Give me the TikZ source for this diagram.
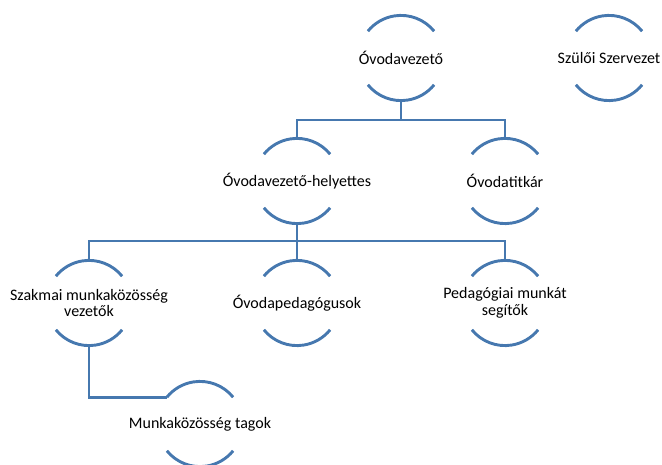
\documentclass[tikz,border=0pt]{standalone}
\usepackage{fontspec}
\setmainfont{Carlito}
\definecolor{lineblue}{RGB}{70,120,175}
\begin{document}
\begin{tikzpicture}[x=1pt,y=1pt,
  circ/.style={circle,draw=none,minimum size=85.2pt,inner sep=0pt,outer sep=0pt},
  lbl/.style={align=center,font=\fontsize{16}{16.5}\selectfont,text=black},
  conn/.style={draw=lineblue,line width=2.9pt},
  arcline/.style={draw=lineblue,line width=2.9pt}]
\useasboundingbox (0,0) rectangle (662,-465);
\def\R{42.6pt}
\node[circ,label={[lbl]center:Óvodavezető}] (v) at (401,-58) {};
\node[circ,label={[lbl]center:Szülői Szervezet}] (s) at (609,-58) {};
\node[circ,label={[lbl]center:Óvodavezető-helyettes}] (h) at (297,-181) {};
\node[circ,label={[lbl]center:Óvodatitkár}] (t) at (505,-181) {};
\node[circ,label={[lbl]center:Szakmai munkaközösség\\vezetők}] (sz) at (89,-303) {};
\node[circ,label={[lbl]center:Óvodapedagógusok}] (op) at (297,-303) {};
\node[circ,label={[lbl]center:Pedagógiai munkát\\segítők}] (pm) at (505,-303) {};
\node[circ,label={[lbl]center:Munkaközösség tagok}] (mt) at (200,-424) {};
\foreach \n in {v,s,h,t,sz,op,pm,mt}{
  \draw[arcline] (\n.39) arc[start angle=39,end angle=141,radius=\R];
  \draw[arcline] (\n.219) arc[start angle=219,end angle=321,radius=\R];
}
\coordinate (b1) at (0,-120);
\coordinate (b2) at (0,-241);
\draw[conn] (v.south) -- (v.south |- b1) -| (h.north);
\draw[conn] (v.south |- b1) -| (t.north);
\draw[conn] (h.south) -- (h.south |- b2) -| (sz.north);
\draw[conn] (h.south |- b2) -| (op.north);
\draw[conn] (h.south |- b2) -| (pm.north);
\draw[conn] (sz.south) |- (mt.141);
\end{tikzpicture}
\end{document}
